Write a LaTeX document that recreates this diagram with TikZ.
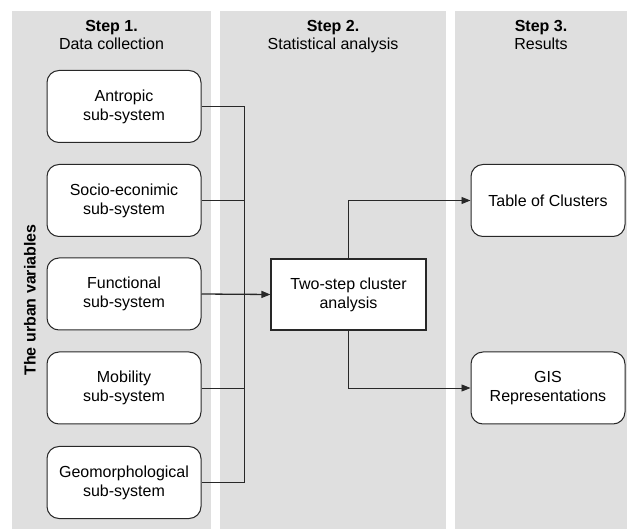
\documentclass[tikz,border=0pt]{standalone}
\usepackage{fontspec}
\setmainfont{Liberation Sans}
\usetikzlibrary{arrows.meta}
\definecolor{panelgray}{RGB}{223,223,223}
\definecolor{linec}{RGB}{40,40,40}
\tikzset{
  panel/.style={fill=panelgray, draw=none},
  rbox/.style={draw=linec, line width=1pt, fill=white, rounded corners=12pt,
    minimum width=154pt, minimum height=72pt, inner sep=0pt, align=center,
    font=\fontsize{16}{19}\selectfont},
  sbox/.style={draw=linec, line width=1.1pt, fill=white,
    minimum width=155pt, minimum height=71pt, inner sep=0pt, align=center,
    font=\fontsize{16}{19}\selectfont},
  hdr/.style={anchor=base, inner sep=0pt, font=\fontsize{16}{19}\selectfont},
  hdrb/.style={anchor=base, inner sep=0pt, font=\fontsize{16}{19}\selectfont\bfseries},
  conn/.style={draw=linec, line width=0.9pt},
  arr/.style={conn, -{Triangle[length=9pt,width=7pt]}}
}
\begin{document}
\begin{tikzpicture}[x=1pt,y=-1pt]
\useasboundingbox (0,0) rectangle (627,529);
\fill[white] (0,0) rectangle (627,529);
% panels
\path[panel] (12,11) rectangle (211,529);
\path[panel] (220,11) rectangle (446,529);
\path[panel] (455,11) rectangle (627,529);
% headers
\node[hdrb] (h1a) at (111.5,32) {Step 1.};
\node[hdr]  (h1b) at (111.5,50) {Data collection};
\node[hdrb] (h2a) at (333,32) {Step 2.};
\node[hdr]  (h2b) at (333,50) {Statistical analysis};
\node[hdrb] (h3a) at (541,32) {Step 3.};
\node[hdr]  (h3b) at (541,50) {Results};
% side label
\node[rotate=90, inner sep=0pt, font=\fontsize{16}{19}\selectfont\bfseries] (side) at (30,300) {The urban variables};
% step 1 boxes
\node[rbox] (ant) at (124,106.5) {Antropic\\sub-system};
\node[rbox] (soc) at (124,200.5) {Socio-econimic\\sub-system};
\node[rbox] (fun) at (124,294) {Functional\\sub-system};
\node[rbox] (mob) at (124,388) {Mobility\\sub-system};
\node[rbox] (geo) at (124,482.5) {Geomorphological\\sub-system};
% step 2
\node[sbox] (two) at (348.5,294.5) {Two-step cluster\\analysis};
% step 3
\node[rbox] (tab) at (548,200.5) {Table of Clusters};
\node[rbox] (gis) at (548,388) {GIS\\Representations};
% bus
\coordinate (bt) at (244,106.5);
\coordinate (bb) at (244,482.5);
\draw[conn] (ant.east) -- (bt) -- (bb) -- (geo.east);
\draw[conn] (soc.east) -- (soc.east -| bt);
\draw[conn] (mob.east) -- (mob.east -| bt);
\draw[arr, line width=1.3pt] (fun.east) -- (two.west);
% outputs
\draw[arr] (two.north) |- (tab.west);
\draw[arr] (two.south) |- (gis.west);
\end{tikzpicture}
\end{document}
